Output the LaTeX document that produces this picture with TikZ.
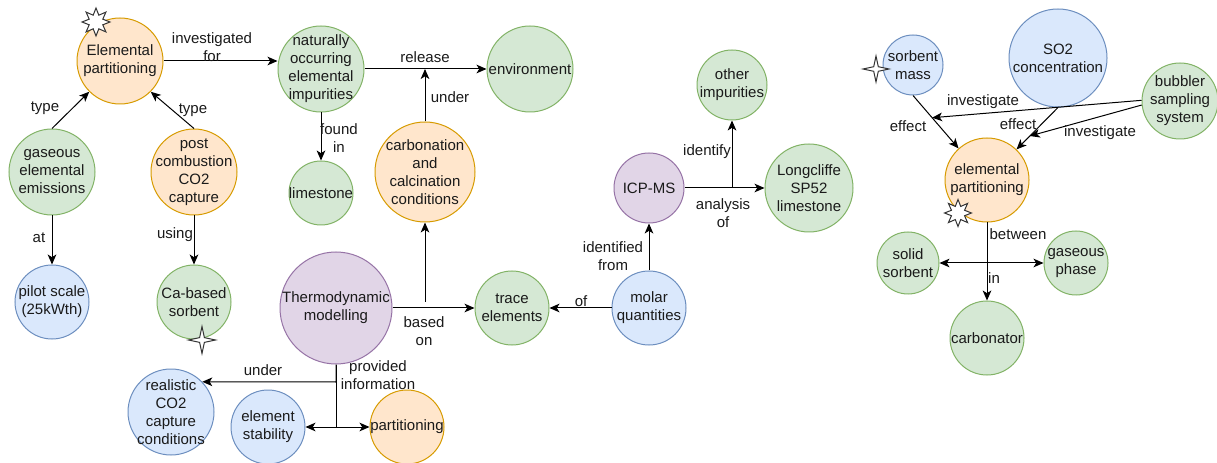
\documentclass[tikz,border=0pt]{standalone}
\usepackage{fontspec}
\setmainfont{Liberation Sans}
\usetikzlibrary{arrows.meta,shapes.geometric}

\definecolor{gfillc}{HTML}{D5E8D4}\definecolor{gline}{HTML}{82B366}
\definecolor{ofillc}{HTML}{FFE6CC}\definecolor{oline}{HTML}{D79B00}
\definecolor{bfillc}{HTML}{DAE8FC}\definecolor{bline}{HTML}{6C8EBF}
\definecolor{pfillc}{HTML}{E1D5E7}\definecolor{pline}{HTML}{9673A6}
\definecolor{ink}{HTML}{1A1A1A}
\definecolor{starline}{HTML}{333333}

\newcommand\txtfont{\fontsize{11.25}{13.5}\selectfont}

\tikzset{
  circ/.style={circle, line width=0.75pt, inner sep=0pt, minimum size=#1*1.5pt},
  gfill/.style={draw=gline, fill=gfillc},
  ofill/.style={draw=oline, fill=ofillc},
  bfill/.style={draw=bline, fill=bfillc},
  pfill/.style={draw=pline, fill=pfillc},
  txt/.style={font=\txtfont, align=center, text=ink, inner sep=0pt},
  lbl/.style={font=\txtfont, align=center, text=ink, inner sep=0pt},
  link/.style={draw=black, line width=0.75pt, -{Stealth[length=7.5pt,width=6.5pt,inset=2pt]}},
  mark8/.style={star, star points=8, star point ratio=1.9, minimum size=#1*1.5pt,
                inner sep=0pt, draw=starline, fill=white, line width=0.75pt},
  mark4/.style={star, star points=4, star point ratio=4, minimum size=#1*1.5pt,
                inner sep=0pt, draw=starline, fill=white, line width=0.75pt},
}

\begin{document}
\begin{tikzpicture}[x=0.75pt, y=-0.75pt]
\useasboundingbox[fill=white] (0,0) rectangle (1217,463);

% ---------- concepts ----------
\node[circ=43, ofill, label={[txt]center:Elemental\\partitioning}] (ep) at (120,61) {};
\node[circ=43, gfill, label={[txt]center:gaseous\\elemental\\emissions}] (gas) at (52,172) {};
\node[circ=43, ofill, label={[txt]center:post\\combustion\\CO2\\capture}] (post) at (194,172) {};
\node[circ=37, bfill, label={[txt]center:{pilot scale\\(25kWth)}}] (pilot) at (52,302) {};
\node[circ=37, gfill, label={[txt]center:Ca-based\\sorbent}] (ca) at (194,302) {};
\node[circ=43, bfill, label={[txt]center:realistic\\CO2\\capture\\conditions}] (real) at (171,412) {};
\node[circ=37, bfill, label={[txt]center:element\\stability}] (stab) at (268,427) {};
\node[circ=37, ofill, label={[txt]center:partitioning}] (part) at (407,427) {};
\node[circ=56, pfill, label={[txt]center:Thermodynamic\\modelling}] (thermo) at (336,308) {};
\node[circ=37, gfill, label={[txt]center:trace\\elements}] (trace) at (512,308) {};
\node[circ=43, gfill, label={[txt]center:naturally\\occurring\\elemental\\impurities}] (nat) at (321,69) {};
\node[circ=43, gfill, label={[txt]center:environment}] (env) at (530,69) {};
\node[circ=32, gfill, label={[txt]center:limestone}] (lime) at (321,193) {};
\node[circ=50, ofill, label={[txt]center:carbonation\\and\\calcination\\conditions}] (carb) at (425,172) {};
\node[circ=35, gfill, label={[txt]center:other\\impurities}] (oth) at (732,85) {};
\node[circ=35, pfill, label={[txt]center:ICP-MS}] (icp) at (649,188) {};
\node[circ=44, gfill, label={[txt]center:Longcliffe\\SP52\\limestone}] (long) at (809,188) {};
\node[circ=37, bfill, label={[txt]center:molar\\quantities}] (mol) at (649,308) {};
\node[circ=30, bfill, label={[txt]center:sorbent\\mass}] (sm) at (913,65) {};
\node[circ=49, bfill, label={[txt]center:SO2\\concentration}] (so2) at (1058,58) {};
\node[circ=38, gfill, label={[txt]center:bubbler\\sampling\\system}] (bub) at (1180,101) {};
\node[circ=42, ofill, label={[txt]center:elemental\\partitioning}] (ep2) at (987,180) {};
\node[circ=31, gfill, label={[txt]center:solid\\sorbent}] (sol) at (908,263) {};
\node[circ=32, gfill, label={[txt]center:gaseous\\phase}] (gph) at (1076,263) {};
\node[circ=37, gfill, label={[txt]center:carbonator}] (carbr) at (987,338) {};

% ---------- junction points ----------
\coordinate (relmid) at (425,69);
\coordinate (tmbase) at (425,302);
\coordinate (tmbend) at (336,382);
\coordinate (icpmid) at (732,188);
\coordinate (phmid)  at (987,263);

% ---------- connectors: left group ----------
\draw[link] (ep.east) -- (ep.east -| nat.west);
\draw[link] (gas.north) -- (ep.225);
\draw[link] (post.north) -- (ep.-45);
\draw[link] (gas.south) -- (pilot.north);
\draw[link] (post.south) -- (ca.north);

% ---------- connectors: middle group ----------
\draw[link] (nat.east) -- (env.west);
\draw[link] (carb.north) -- (relmid);
\draw[link] (nat.south) -- (lime.north);
\draw[link] (thermo.east) -- (trace.west);
\draw[link] (tmbase) -- (carb.south);
\draw[link] (thermo.south) -- (tmbend) -- (real.44);
\draw[link] (thermo.south) |- (stab.east);
\draw[link] (thermo.south) |- (part.west);
\draw[link] (mol.west) -- (trace.east);
\draw[link] (mol.north) -- (icp.south);
\draw[link] (icp.east) -- (long.west);
\draw[link] (icpmid) -- (oth.south);

% ---------- connectors: right group ----------
\draw[link] (sm.south) -- coordinate[pos=0.42] (smhit) (ep2.132);
\draw[link] (so2.south) -- coordinate[pos=0.68] (sohit) (ep2.46);
\draw[link] (bub.179) -- (smhit);
\draw[link] (bub.186) -- (sohit);
\draw[link] (ep2.south) -- (carbr.north);
\draw[link] (phmid) -- (sol.east);
\draw[link] (phmid) -- (gph.west);

% ---------- connector labels ----------
\node[lbl] (l1)  at (212,47.5) {investigated\\for};
\node[lbl] (l2)  at (45,108)   {type};
\node[lbl] (l3)  at (193,110)  {type};
\node[lbl] (l4)  at (39,238)   {at};
\node[lbl] (l5)  at (175,235)  {using};
\node[lbl] (l6)  at (425,57)   {release};
\node[lbl] (l7)  at (450,97)   {under};
\node[lbl] (l8)  at (339,138)  {found\\in};
\node[lbl] (l9)  at (424,331)  {based\\on};
\node[lbl] (l10) at (263,370)  {under};
\node[lbl] (l11) at (378,375.5){provided\\information};
\node[lbl] (l12) at (581,301)  {of};
\node[lbl] (l13) at (613,256.5){identified\\from};
\node[lbl] (l14) at (707,152)  {identify};
\node[lbl] (l15) at (723,213)  {analysis\\of};
\node[lbl] (l16) at (983,102)  {investigate};
\node[lbl] (l17) at (908,126)  {effect};
\node[lbl] (l18) at (1018,124) {effect};
\node[lbl] (l19) at (1100,133) {investigate};
\node[lbl] (l20) at (1018,234) {between};
\node[lbl] (l21) at (994,278)  {in};

% ---------- markers ----------
\node[mark8=14] (m1) at (96,22) {};
\node[mark4=13.5] (m2) at (202,340) {};
\node[mark4=13] (m3) at (876,69) {};
\node[mark8=13.5] (m4) at (958,213) {};
\end{tikzpicture}
\end{document}
